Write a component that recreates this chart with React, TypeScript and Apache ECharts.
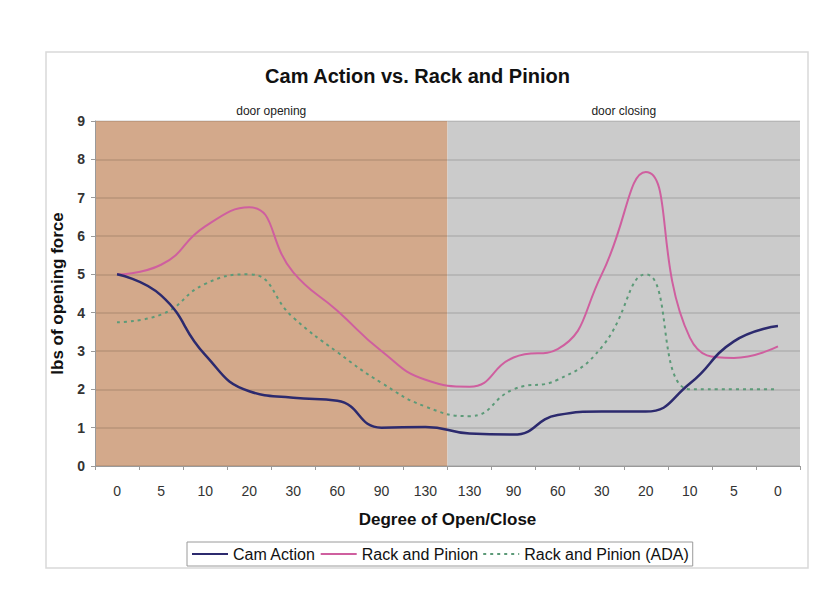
import React, { useEffect, useRef } from "react";
import * as echarts from "echarts";

const categories = ["0", "5", "10", "20", "30", "60", "90", "130", "130", "90", "60", "30", "20", "10", "5", "0"];
const camAction = [5.0, 4.45, 2.9, 1.95, 1.78, 1.7, 1.0, 1.02, 0.85, 0.82, 1.33, 1.42, 1.42, 2.15, 3.25, 3.65];
const rackPinion = [5.0, 5.25, 6.25, 6.75, 5.05, 4.05, 3.0, 2.25, 2.07, 2.83, 3.05, 5.0, 7.67, 3.35, 2.82, 3.12];
const rackPinionAda = [3.75, 3.95, 4.75, 5.0, 3.87, 2.97, 2.17, 1.55, 1.3, 2.0, 2.25, 3.1, 5.0, 2.0, 2.0, 2.0];
const phaseNames = ["door opening", "door closing"];
const phaseBounds = [0, 8, 16];
const phaseColors = ["#d3a98b", "#cbcbcb"];

export default function App() {
  const ref = useRef<HTMLDivElement>(null);
  useEffect(() => {
    if (!ref.current) return;
    const chart = echarts.init(ref.current, null, { renderer: "svg" });
    const font = "'Liberation Sans', Arial, sans-serif";
    chart.setOption({
      animation: false,
      backgroundColor: "#ffffff",
      textStyle: { fontFamily: font },
      title: {
        text: "Cam Action vs. Rack and Pinion",
        left: "center",
        top: 61,
        textStyle: { fontSize: 20, fontWeight: "bold", color: "#111", fontFamily: font },
      },
      graphic: [
        {
          type: "rect",
          shape: { x: 46, y: 52, width: 762, height: 516 },
          style: { fill: "none", stroke: "#d9d9d9", lineWidth: 1.5 },
          silent: true,
        },
      ],
      legend: {
        left: 187,
        top: 542,
        data: ["Cam Action", "Rack and Pinion", "Rack and Pinion (ADA)"],
        itemWidth: 36,
        itemHeight: 10,
        itemGap: 4,
        borderColor: "#9a9a9a",
        borderWidth: 1,
        padding: [4, 4],
        itemStyle: { opacity: 0 },
        textStyle: { fontSize: 16, color: "#111", fontFamily: font },
      },
      grid: { left: 95, right: 35, top: 121, bottom: 134, containLabel: false },
      xAxis: [
        {
          type: "category",
          data: categories,
          boundaryGap: true,
          name: "Degree of Open/Close",
          nameLocation: "middle",
          nameGap: 45,
          nameTextStyle: { fontSize: 17, fontWeight: "bold", color: "#111", fontFamily: font },
          axisLine: { lineStyle: { color: "#9a9a9a", width: 1 } },
          axisTick: { show: true, length: 4, lineStyle: { color: "#9a9a9a" } },
          axisLabel: { fontSize: 14, color: "#333", margin: 18, fontFamily: font },
        },
        { type: "value", min: 0, max: 16, show: false },
      ],
      yAxis: {
        type: "value",
        min: 0,
        max: 9,
        interval: 1,
        name: "lbs of opening force",
        nameLocation: "middle",
        nameGap: 29,
        nameTextStyle: { fontSize: 17, fontWeight: "bold", color: "#111", fontFamily: font },
        axisLine: { show: true, lineStyle: { color: "#9a9a9a", width: 1 } },
        axisTick: { show: true, length: 4, lineStyle: { color: "#9a9a9a" } },
        axisLabel: { fontSize: 14, fontWeight: "bold", color: "#333", margin: 10, fontFamily: font },
        splitLine: { show: true, lineStyle: { color: "rgba(0,0,0,0.13)", width: 1.5 } },
      },
      series: [
        {
          name: "bands",
          type: "line",
          xAxisIndex: 1,
          data: [],
          z: -1,
          silent: true,
          markArea: {
            silent: true,
            z: -1,
            label: { show: true, position: "top", distance: 4, fontSize: 12, color: "#222", fontFamily: font },
            data: phaseNames.map((n, i) => [
              { name: n, xAxis: phaseBounds[i], itemStyle: { color: phaseColors[i] } },
              { xAxis: phaseBounds[i + 1] },
            ]),
          },
        },
        {
          name: "Cam Action",
          type: "line",
          data: camAction,
          smooth: true,
          symbol: "none",
          lineStyle: { color: "#2c2a6e", width: 2.5 },
          itemStyle: { color: "#2c2a6e" },
          z: 4,
        },
        {
          name: "Rack and Pinion",
          type: "line",
          data: rackPinion,
          smooth: true,
          symbol: "none",
          lineStyle: { color: "#cf5f9f", width: 2 },
          itemStyle: { color: "#cf5f9f" },
          z: 3,
        },
        {
          name: "Rack and Pinion (ADA)",
          type: "line",
          data: rackPinionAda,
          smooth: true,
          symbol: "none",
          lineStyle: { color: "#5c9a78", width: 2, type: [3, 4] },
          itemStyle: { color: "#5c9a78" },
          z: 2,
        },
      ],
    });
    return () => chart.dispose();
  }, []);
  return <div ref={ref} style={{ position: "absolute", left: 0, top: 0, width: 835, height: 600 }} />;
}
